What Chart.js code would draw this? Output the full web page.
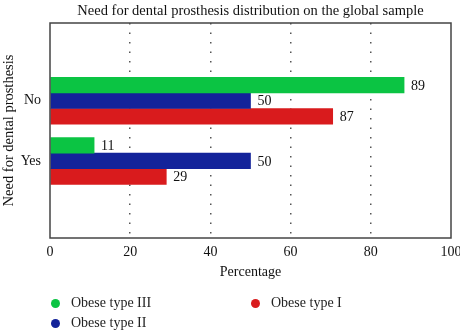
<!DOCTYPE html>
<html>
<head>
<meta charset="utf-8">
<script src="https://cdn.jsdelivr.net/npm/chart.js@4/dist/chart.umd.min.js"></script>
<style>
  body { margin: 0; background: #fff; }
  #wrap { position: relative; width: 460px; height: 332px; }
  #legend { position: absolute; left: 50px; top: 293px; width: 400px;
            font-family: "Liberation Serif", "DejaVu Serif", serif; font-size: 14px; color: #222; }
  .item { position: absolute; white-space: nowrap; line-height: 20px; }
  .dot { display: inline-block; width: 9px; height: 9px; border-radius: 50%;
         margin-right: 11px; vertical-align: -1px; margin-left: 1px; }
</style>
</head>
<body>
<div id="wrap">
  <canvas id="c" width="460" height="332"></canvas>
  <div id="legend"></div>
</div>
<script>
const categories = ['No', 'Yes'];
const seriesNames = ['Obese type III', 'Obese type II', 'Obese type I'];
const seriesColors = ['#0bc443', '#13239a', '#d91b1d'];
// bar lengths as drawn
const obeseIII = [88.3, 11];
const obeseII  = [50, 50];
const obeseI   = [70.5, 29];
// value labels as printed next to the bars
const labelsIII = ['89', '11'];
const labelsII  = ['50', '50'];
const labelsI   = ['87', '29'];
const xTicks = [0, 20, 40, 60, 80, 100];

const serif = '"Liberation Serif", "DejaVu Serif", serif';

function makeSet(i, values, texts) {
  return {
    label: seriesNames[i]
  , data: values.map(function(v, k) { return { x: v, y: k }; })
  , valueTexts: texts
  , backgroundColor: seriesColors[i]
  , borderWidth: 0
  , barThickness: 15.6
  };
}

const framePlugin = {
  id: 'frame'
, afterDraw: function(chart) {
    const a = chart.chartArea;
    const ctx = chart.ctx;
    ctx.save();
    ctx.strokeStyle = '#444';
    ctx.lineWidth = 1.5;
    ctx.strokeRect(a.left, a.top, a.right - a.left, a.bottom - a.top);
    ctx.restore();
  }
};

const valuePlugin = {
  id: 'values'
, afterDatasetsDraw: function(chart) {
    const ctx = chart.ctx;
    ctx.save();
    ctx.font = '14px ' + serif;
    ctx.fillStyle = '#111';
    ctx.textBaseline = 'middle';
    ctx.textAlign = 'left';
    chart.data.datasets.forEach(function(ds, i) {
      chart.getDatasetMeta(i).data.forEach(function(bar, k) {
        ctx.fillText(ds.valueTexts[k], bar.x + 7, bar.y + 1);
      });
    });
    ctx.restore();
  }
};

const chart = new Chart(document.getElementById('c').getContext('2d'), {
  type: 'bar'
, data: {
    datasets: [
      makeSet(0, obeseIII, labelsIII)
    , makeSet(1, obeseII, labelsII)
    , makeSet(2, obeseI, labelsI)
    ]
  }
, plugins: [framePlugin, valuePlugin]
, options: {
    indexAxis: 'y'
  , responsive: false
  , animation: false
  , layout: { padding: { left: 0, right: 9, top: 0, bottom: 49 } }
  , plugins: {
      legend: { display: false }
    , tooltip: { enabled: false }
    , title: {
        display: true
      , fullSize: false
      , text: 'Need for dental prosthesis distribution on the global sample'
      , color: '#111'
      , font: { family: serif, size: 14.5, weight: 'normal' }
      , padding: { top: 2, bottom: 3.6 }
      }
    }
  , scales: {
      x: {
        type: 'linear'
      , min: 0
      , max: 100
      , afterBuildTicks: function(axis) { axis.ticks = xTicks.map(function(v) { return { value: v }; }); }
      , afterFit: function(axis) { axis.height = 45; axis.paddingRight = 0; axis.paddingLeft = 0; }
      , border: { display: false, dash: [1.5, 8] }
      , grid: {
          drawTicks: false
        , lineWidth: 1.5
        , color: function(c) { return (c.tick && (c.tick.value === 0 || c.tick.value === 100)) ? 'rgba(0,0,0,0)' : '#555'; }
        }
      , ticks: { color: '#111', padding: 6, font: { family: serif, size: 14 }, maxRotation: 0 }
      , title: { display: true, text: 'Percentage', color: '#111', padding: { top: 4, bottom: 2 }, font: { family: serif, size: 14 } }
      }
    , y: {
        type: 'linear'
      , offset: false
      , bounds: 'data'
      , min: -1.29
      , max: 2.28
      , reverse: true
      , afterBuildTicks: function(axis) { axis.ticks = categories.map(function(c, i) { return { value: i }; }); }
      , afterFit: function(axis) { axis.width = 50; }
      , border: { display: false }
      , grid: { display: false, drawTicks: false }
      , ticks: {
          color: '#111'
        , padding: 9
        , font: { family: serif, size: 14 }
        , callback: function(v) { return categories[v]; }
        }
      , title: { display: true, text: 'Need for dental prosthesis', color: '#111', padding: { top: 0, bottom: 0 }, font: { family: serif, size: 14.5 } }
      }
    }
  }
});

// legend: column order as in the original figure
const legendPos = [[0, 0], [0, 20], [200, 0]];
const legendBox = document.getElementById('legend');
seriesNames.forEach(function(name, i) {
  const el = document.createElement('div');
  el.className = 'item';
  el.style.left = legendPos[i][0] + 'px';
  el.style.top = legendPos[i][1] + 'px';
  el.innerHTML = '<span class="dot" style="background:' + seriesColors[i] + '"></span>' + name;
  legendBox.appendChild(el);
});
</script>
</body>
</html>
